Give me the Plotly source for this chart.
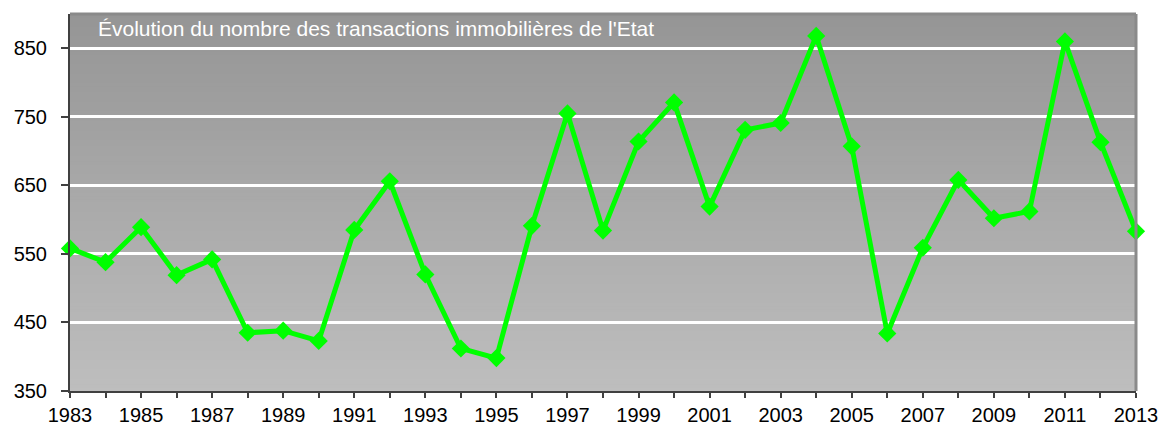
import plotly.graph_objects as go

# Nombre annuel des transactions immobilières de l'Etat
years = list(range(1983, 2014))
transactions = [558, 538, 589, 519, 542, 435, 438, 423, 585, 656,
                520, 412, 398, 591, 755, 584, 714, 771, 619, 731,
                741, 868, 707, 434, 559, 658, 602, 612, 860, 713, 583]

y_ticks = [350, 450, 550, 650, 750, 850]
x_labels = [str(y) if (y - 1983) % 2 == 0 else "" for y in years]
title_text = "Évolution du nombre des transactions immobilières de l'Etat"

FONT = "Liberation Sans, Arial, sans-serif"
AXIS = "#404040"

fig = go.Figure()

fig.add_trace(go.Scatter(
    x=years, y=transactions,
    mode="lines+markers",
    line=dict(color="#00ff00", width=5),
    marker=dict(symbol="diamond", size=14, color="#00ff00"),
    cliponaxis=False,
    hoverinfo="x+y",
    showlegend=False,
))

# vertical grey gradient behind the plot area (drawn beneath the gridlines)
shapes = []
n_bands = 120
top_c, bot_c = 149, 190
for i in range(n_bands):
    f = (i + 0.5) / n_bands
    c = round(bot_c + (top_c - bot_c) * f)
    shapes.append(dict(
        type="rect", xref="paper", yref="paper",
        x0=0, x1=1, y0=i / n_bands, y1=(i + 1) / n_bands + 0.002,
        fillcolor=f"rgb({c},{c},{c})", line=dict(width=0), layer="below",
    ))
# light frame on the top and right edges
shapes.append(dict(type="line", xref="paper", yref="paper", x0=0, x1=1, y0=1, y1=1,
                   line=dict(color="#8a8a8a", width=3), layer="above"))
shapes.append(dict(type="line", xref="paper", yref="paper", x0=1, x1=1, y0=0, y1=1,
                   line=dict(color="#8a8a8a", width=3), layer="above"))

fig.update_layout(
    width=1159, height=425,
    margin=dict(l=70, r=23, t=14, b=34),
    paper_bgcolor="white",
    plot_bgcolor="rgba(0,0,0,0)",
    font=dict(family=FONT, size=20, color="black"),
    shapes=shapes,
    xaxis=dict(
        range=[1983, 2013], automargin=False,
        tickvals=years, ticktext=x_labels,
        ticks="outside", ticklen=5, tickwidth=1.5, tickcolor=AXIS,
        showline=True, linecolor=AXIS, linewidth=2,
        showgrid=False, zeroline=False,
        tickfont=dict(family=FONT, size=20, color="black"),
    ),
    xaxis2=dict(
        overlaying="x", matches="x", anchor="y", side="bottom", automargin=False,
        range=[1983, 2013], tickvals=years,
        ticks="inside", ticklen=5, tickwidth=1.5, tickcolor=AXIS,
        showticklabels=False, showline=False, showgrid=False, zeroline=False,
    ),
    yaxis=dict(
        range=[350, 900], automargin=False,
        tickvals=y_ticks,
        ticks="outside", ticklen=7, tickwidth=1.5, tickcolor=AXIS,
        ticklabelstandoff=10,
        showline=True, linecolor=AXIS, linewidth=2,
        showgrid=True, gridcolor="white", gridwidth=2.5,
        zeroline=False,
        tickfont=dict(family=FONT, size=20, color="black"),
    ),
    annotations=[dict(
        text=title_text, xref="paper", yref="paper",
        x=0, y=1, xanchor="left", yanchor="top",
        xshift=26, yshift=-1, showarrow=False,
        font=dict(family=FONT, size=21, color="white"),
    )],
)

fig.write_html("out.html")
